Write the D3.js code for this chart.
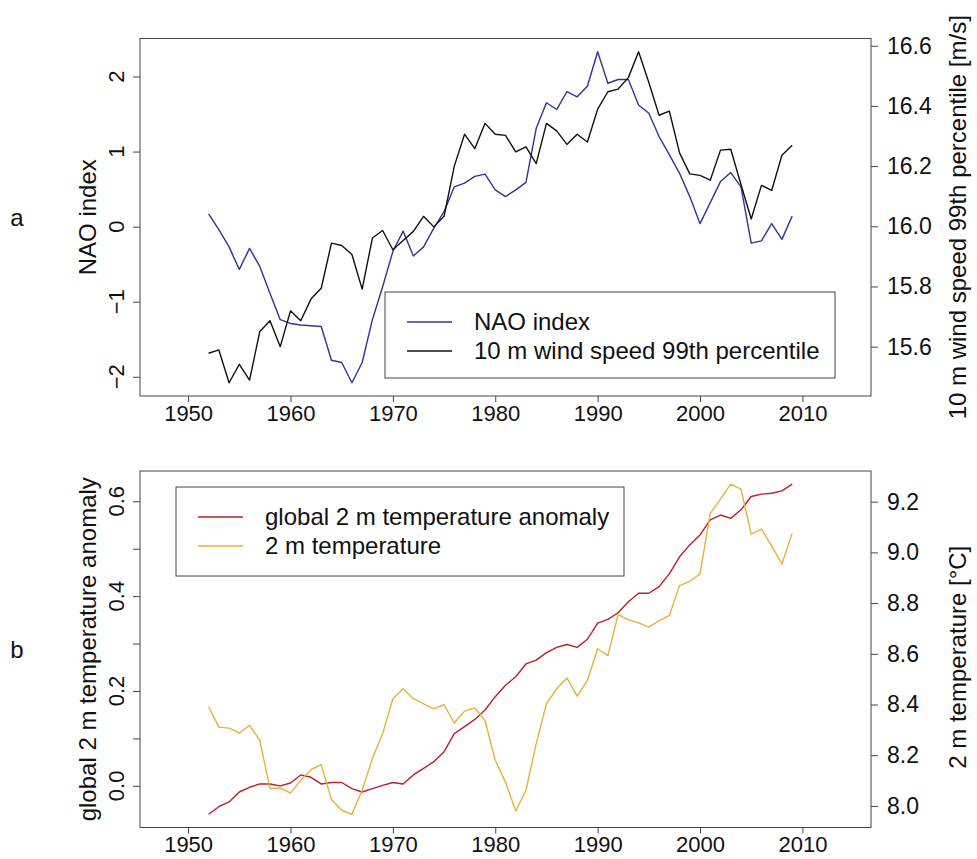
<!DOCTYPE html>
<html>
<head>
<meta charset="utf-8">
<script src="https://cdn.jsdelivr.net/npm/d3@7"></script>
<style>
  body { margin: 0; background: #fff; }
  svg { font-family: "Liberation Sans", Arial, sans-serif; }
</style>
</head>
<body>
<svg id="chart" width="977" height="859"></svg>
<script>
// Years shared by all four series
var years = [1952, 1953, 1954, 1955, 1956, 1957, 1958, 1959, 1960, 1961,
             1962, 1963, 1964, 1965, 1966, 1967, 1968, 1969, 1970, 1971,
             1972, 1973, 1974, 1975, 1976, 1977, 1978, 1979, 1980, 1981,
             1982, 1983, 1984, 1985, 1986, 1987, 1988, 1989, 1990, 1991,
             1992, 1993, 1994, 1995, 1996, 1997, 1998, 1999, 2000, 2001,
             2002, 2003, 2004, 2005, 2006, 2007, 2008, 2009];

// Panel a
var naoIndex = [0.17, -0.04, -0.27, -0.57, -0.29, -0.53, -0.89, -1.24, -1.29, -1.31,
                -1.32, -1.33, -1.78, -1.81, -2.08, -1.81, -1.24, -0.80, -0.33, -0.06,
                -0.39, -0.27, -0.02, 0.20, 0.53, 0.58, 0.67, 0.70, 0.49, 0.40,
                0.49, 0.59, 1.31, 1.65, 1.56, 1.80, 1.73, 1.87, 2.33, 1.91,
                1.96, 1.96, 1.62, 1.51, 1.20, 0.96, 0.71, 0.40, 0.04, 0.32,
                0.60, 0.72, 0.53, -0.22, -0.19, 0.04, -0.17, 0.14];
var wind99 = [15.578, 15.589, 15.480, 15.541, 15.489, 15.650, 15.686, 15.600, 15.719, 15.686,
              15.758, 15.794, 15.944, 15.936, 15.906, 15.791, 15.961, 15.986, 15.922, 15.953,
              15.983, 16.033, 15.998, 16.033, 16.200, 16.306, 16.258, 16.342, 16.306, 16.302,
              16.247, 16.264, 16.208, 16.342, 16.317, 16.272, 16.306, 16.280, 16.389, 16.447,
              16.456, 16.494, 16.580, 16.478, 16.369, 16.383, 16.244, 16.174, 16.169, 16.153,
              16.253, 16.256, 16.139, 16.024, 16.136, 16.119, 16.236, 16.269];

// Panel b
var globalAnom = [-0.060, -0.044, -0.034, -0.013, -0.003, 0.004, 0.004, 0.000, 0.006, 0.023,
                  0.018, 0.004, 0.007, 0.007, -0.006, -0.013, -0.006, 0.001, 0.007, 0.004,
                  0.023, 0.037, 0.051, 0.072, 0.110, 0.125, 0.140, 0.160, 0.188, 0.212,
                  0.230, 0.257, 0.265, 0.281, 0.292, 0.298, 0.292, 0.309, 0.343, 0.351,
                  0.365, 0.388, 0.406, 0.406, 0.420, 0.447, 0.483, 0.508, 0.529, 0.561,
                  0.571, 0.564, 0.582, 0.610, 0.615, 0.617, 0.622, 0.636];
var temp2m = [8.392, 8.311, 8.307, 8.287, 8.318, 8.259, 8.068, 8.071, 8.051, 8.101,
              8.143, 8.163, 8.025, 7.983, 7.967, 8.062, 8.187, 8.285, 8.423, 8.462,
              8.423, 8.403, 8.383, 8.399, 8.327, 8.374, 8.387, 8.337, 8.180, 8.094,
              7.980, 8.062, 8.246, 8.403, 8.462, 8.505, 8.433, 8.495, 8.620, 8.593,
              8.755, 8.734, 8.722, 8.705, 8.731, 8.751, 8.869, 8.886, 8.915, 9.154,
              9.210, 9.269, 9.250, 9.072, 9.092, 9.026, 8.954, 9.075];

// Tick values
var yearTicks = [1950, 1960, 1970, 1980, 1990, 2000, 2010];
var naoTicks = [-2, -1, 0, 1, 2];
var windTicks = [15.6, 15.8, 16.0, 16.2, 16.4, 16.6];
var anomTicks = [0, 0.1, 0.2, 0.3, 0.4, 0.5, 0.6];
var anomLabelTicks = [0, 0.2, 0.4, 0.6];
var tempTicks = [8.0, 8.2, 8.4, 8.6, 8.8, 9.0, 9.2];

var svg = d3.select("#chart");
var left = 140, right = 871;
var fs = 24;     // titles and legend
var tfs = 22;    // tick labels

var x = d3.scaleLinear().domain([1945.3, 2016.7]).range([left, right]);

// R style axis range: data extent padded by 4 %
function padded(vals) {
    var e = d3.extent(vals);
    var p = (e[1] - e[0]) * 0.04;
    return [e[0] - p, e[1] + p];
}

function drawPanel(opt) {
    var g = svg.append("g");
    var yL = d3.scaleLinear().domain(padded(opt.leftVals)).range([opt.bottom, opt.top]);
    var yR = d3.scaleLinear().domain(padded(opt.rightVals)).range([opt.bottom, opt.top]);
    var mid = (opt.top + opt.bottom) / 2;

    // bottom axis
    var xa = g.append("g").attr("transform", "translate(0," + opt.bottom + ")")
        .call(d3.axisBottom(x).tickValues(yearTicks).tickFormat(d3.format("d")).tickSize(6).tickPadding(3));
    xa.select(".domain").remove();
    xa.selectAll("text").attr("font-size", tfs).attr("fill", "#111").attr("font-family", null);
    xa.selectAll("line").attr("stroke", "#444");

    // left axis, labels turned as in R
    var la = g.append("g").attr("transform", "translate(" + left + ",0)")
        .call(d3.axisLeft(yL).tickValues(opt.leftTicks).tickSize(7).tickFormat(""));
    la.select(".domain").remove();
    la.selectAll("line").attr("stroke", "#444");
    g.selectAll(".lt").data(opt.leftLabels).enter().append("text")
        .attr("transform", function(d) { return "translate(116," + yL(d) + ") rotate(-90)"; })
        .attr("text-anchor", "middle").attr("dy", "0.35em")
        .attr("font-size", tfs).attr("fill", "#111")
        .text(opt.leftFormat);

    // right axis
    var ra = g.append("g").attr("transform", "translate(" + right + ",0)")
        .call(d3.axisRight(yR).tickValues(opt.rightTicks).tickSize(7).tickPadding(9).tickFormat(d3.format(".1f")));
    ra.select(".domain").remove();
    ra.selectAll("text").attr("font-size", tfs + 1).attr("fill", "#111").attr("font-family", null);
    ra.selectAll("line").attr("stroke", "#444");

    // frame
    g.append("rect").attr("x", left).attr("y", opt.top)
        .attr("width", right - left).attr("height", opt.bottom - opt.top)
        .attr("fill", "none").attr("stroke", "#444").attr("stroke-width", 1);

    // lines
    opt.series.forEach(function(s) {
        var sc = s.side == "left" ? yL : yR;
        var line = d3.line().x(function(d, i) { return x(years[i]); }).y(function(d) { return sc(d); });
        g.append("path").datum(s.values)
            .attr("fill", "none").attr("stroke", s.color).attr("stroke-width", 1.4)
            .attr("stroke-linejoin", "round").attr("d", line);
    });

    // axis titles
    g.append("text").attr("transform", "translate(96," + mid + ") rotate(-90)")
        .attr("text-anchor", "middle").attr("font-size", fs).attr("fill", "#111").text(opt.leftTitle);
    g.append("text").attr("transform", "translate(966," + (mid + opt.rightShift) + ") rotate(-90)")
        .attr("text-anchor", "middle").attr("font-size", fs).attr("fill", "#111").text(opt.rightTitle);
    g.append("text").attr("x", 17).attr("y", mid).attr("dy", "0.35em")
        .attr("text-anchor", "middle").attr("font-size", fs).attr("fill", "#111").text(opt.tag);

    // legend
    var lg = opt.legend;
    g.append("rect").attr("x", lg.x).attr("y", lg.y).attr("width", lg.w).attr("height", lg.h)
        .attr("fill", "#fff").attr("stroke", "#444");
    opt.series.forEach(function(s, i) {
        var yy = lg.y + 30 + i * 29;
        g.append("line").attr("x1", lg.x + 22).attr("x2", lg.x + 67).attr("y1", yy).attr("y2", yy)
            .attr("stroke", s.color).attr("stroke-width", 1.4);
        g.append("text").attr("x", lg.x + 89).attr("y", yy).attr("dy", "0.35em")
            .attr("font-size", fs).attr("fill", "#111").text(s.name);
    });
}

drawPanel({
    top: 38.5, bottom: 396, tag: "a",
    leftVals: naoIndex, rightVals: wind99,
    leftTicks: naoTicks, leftLabels: naoTicks,
    leftFormat: function(d) { return d < 0 ? "\u2212" + Math.abs(d) : d; },
    rightTicks: windTicks, rightShift: 0,
    leftTitle: "NAO index", rightTitle: "10 m wind speed 99th percentile [m/s]",
    legend: { x: 385, y: 292, w: 450, h: 86 },
    series: [
        { name: "NAO index", values: naoIndex, side: "left", color: "#33339a" },
        { name: "10 m wind speed 99th percentile", values: wind99, side: "right", color: "#111111" }
    ]
});

drawPanel({
    top: 471, bottom: 827.5, tag: "b",
    leftVals: globalAnom, rightVals: temp2m,
    leftTicks: anomTicks, leftLabels: anomLabelTicks,
    leftFormat: d3.format(".1f"),
    rightTicks: tempTicks, rightShift: 8,
    leftTitle: "global 2 m temperature anomaly", rightTitle: "2 m temperature [\u00b0C]",
    legend: { x: 176, y: 487, w: 448, h: 89 },
    series: [
        { name: "global 2 m temperature anomaly", values: globalAnom, side: "left", color: "#b8202c" },
        { name: "2 m temperature", values: temp2m, side: "right", color: "#e8b234" }
    ]
});
</script>
</body>
</html>
